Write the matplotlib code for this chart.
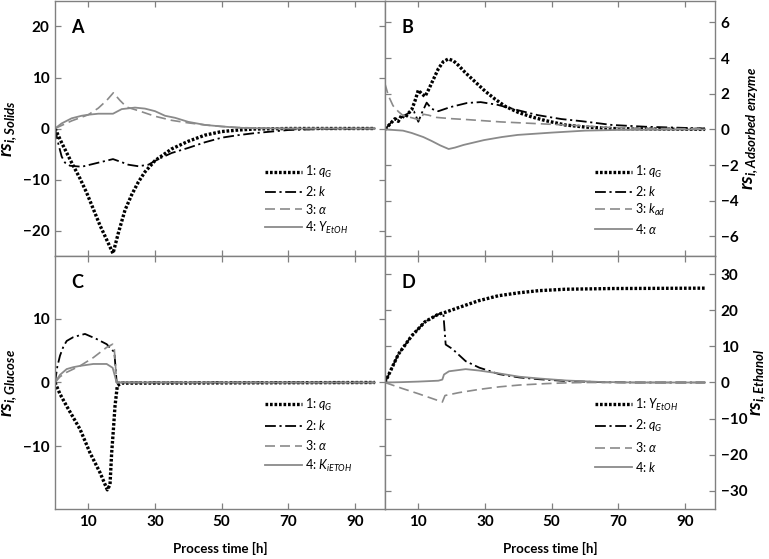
import matplotlib
matplotlib.use('Agg')
import matplotlib.pyplot as plt

plt.rcParams['font.family'] = ['Lato', 'DejaVu Sans']
plt.rcParams['mathtext.fontset'] = 'custom'
plt.rcParams['mathtext.rm'] = 'Lato'
plt.rcParams['mathtext.it'] = 'Lato:italic'
plt.rcParams['mathtext.bf'] = 'Lato:bold'
plt.rcParams['mathtext.bfit'] = 'Lato:italic:bold'

# ---- Panel A : solids ----
a1_t = [0, 2, 5, 7.5, 9.5, 11.5, 13.5, 15.5, 17.4, 19, 21, 23, 25, 27, 30, 35, 40, 45, 50, 55, 60, 70, 96]
a1_y = [0, -2.8, -6.7, -9.8, -12.6, -15.8, -19, -21.8, -24.5, -20.5, -16, -13, -10.5, -8.5, -6.3, -4, -2.5, -1.3, -0.6, -0.3, -0.1, 0, 0]
a2_t = [0, 1, 2, 3, 4.5, 8, 13, 17.4, 20, 22, 25, 28, 31, 35, 40, 45, 50, 55, 60, 70, 80, 96]
a2_y = [0, -3, -5.5, -6.7, -7.3, -7.5, -6.7, -6.0, -6.6, -7.1, -7.4, -7.1, -6.0, -4.8, -3.8, -2.7, -1.8, -1.3, -0.9, -0.3, -0.1, 0]
a3_t = [0, 5, 10, 13, 15.5, 17.5, 19.5, 21.5, 25, 30, 35, 40, 45, 50, 55, 60, 70, 96]
a3_y = [0, 1.5, 2.7, 4.0, 5.5, 7.0, 5.5, 4.2, 3.5, 2.4, 1.6, 1.1, 0.7, 0.4, 0.2, 0.1, 0, 0]
a4_t = [0, 2, 5, 8, 10, 13, 17.4, 20, 24, 27, 30, 33, 36, 40, 45, 50, 55, 60, 70, 96]
a4_y = [0, 1.0, 2.0, 2.5, 2.7, 2.9, 2.9, 3.8, 4.1, 3.9, 3.4, 2.5, 2.1, 1.3, 0.7, 0.4, 0.15, 0.05, 0, 0]

# ---- Panel B : adsorbed enzyme ----
b1_t = [0, 1, 2, 3, 4, 5, 6, 7, 8, 9, 10, 11, 12, 13, 14, 16, 17.5, 19, 20.5, 22, 24, 26, 28, 30, 33, 36, 40, 44, 48, 54, 60, 68, 80, 96]
b1_y = [0, 0.2, 0.4, 0.6, 0.45, 0.8, 0.65, 0.9, 1.1, 1.6, 2.2, 2.0, 1.85, 2.2, 2.6, 3.4, 3.8, 3.95, 3.85, 3.6, 3.2, 2.85, 2.5, 2.15, 1.7, 1.3, 0.95, 0.7, 0.5, 0.25, 0.13, 0.05, 0.02, 0]
b2_t = [0, 2.4, 5.4, 7.5, 8.7, 10, 11, 12.5, 14, 16, 19.6, 24.6, 28.7, 33.7, 39.8, 45.8, 52.9, 59, 68, 78, 96]
b2_y = [0, 0.5, 0.74, 0.95, 1.0, 0.43, 0.9, 1.5, 1.15, 1.02, 1.25, 1.48, 1.53, 1.38, 1.08, 0.8, 0.58, 0.46, 0.25, 0.15, 0.05]
b3_t = [0, 0, 1, 2.4, 4, 5.4, 8.5, 10.5, 11.5, 13, 15.5, 20, 24.6, 34.7, 44.8, 55, 68, 80, 96]
b3_y = [0, 2.55, 1.9, 1.33, 1.0, 0.78, 0.63, 0.53, 0.85, 0.8, 0.67, 0.6, 0.55, 0.42, 0.33, 0.24, 0.1, 0.05, 0.03]
b4_t = [0, 5.4, 8, 11.5, 14, 16.6, 19.1, 21, 23.6, 29.7, 35, 39.8, 50, 60, 70, 96]
b4_y = [0, -0.07, -0.2, -0.43, -0.65, -0.9, -1.1, -1.02, -0.87, -0.6, -0.43, -0.31, -0.18, -0.07, -0.03, 0]

# ---- Panel C : glucose ----
c1_t = [0, 1.5, 3.5, 5.5, 7.5, 10.5, 13.5, 15.7, 16.5, 17, 17.5, 18, 18.7, 19.3, 20, 96]
c1_y = [0, -1.8, -3.7, -5.5, -7.3, -11, -14.1, -16.8, -16.0, -11, -7.5, -3.7, -0.5, -0.3, -0.1, 0]
c2_t = [0, 0.7, 1.5, 2.5, 3.5, 5.5, 7.5, 9, 12.5, 15.5, 17.3, 17.8, 18.5, 96]
c2_y = [0, 2.5, 4.2, 5.6, 6.5, 7.1, 7.4, 7.6, 6.8, 6.0, 5.0, 4.8, 0, 0]
c3_t = [0, 1.5, 3.5, 7.5, 11.5, 15.5, 17.3, 17.8, 18.5, 96]
c3_y = [0, 0.9, 1.6, 2.6, 3.9, 5.5, 6.0, 5.2, 0, 0]
c4_t = [0, 1.5, 3.5, 5.5, 7.5, 11.5, 15.5, 17.3, 18.5, 96]
c4_y = [0, 1.2, 2.1, 2.4, 2.6, 2.9, 2.9, 2.3, 0, 0]

# ---- Panel D : ethanol ----
d1_t = [0, 4, 8, 12, 16, 18, 22, 28, 34, 40, 46, 54, 68, 96]
d1_y = [0, 7.8, 12.9, 16.8, 18.9, 19.4, 20.7, 22.6, 24.0, 24.8, 25.4, 25.8, 26.0, 26.1]
d2_t = [0, 4, 8, 12, 16, 17.5, 17.7, 18.2, 20.2, 24.2, 28.3, 34.3, 40.3, 46.3, 54.4, 64.5, 75, 96]
d2_y = [0, 7.8, 12.9, 16.8, 18.9, 19.2, 16.7, 10.5, 9.3, 5.9, 4.1, 2.3, 1.4, 0.9, 0.4, 0.1, 0, 0]
d3_t = [0, 5, 10, 17.2, 18, 22.2, 28.3, 34.3, 40.3, 48.5, 54.4, 60, 96]
d3_y = [0, -1.6, -3.1, -5.4, -3.6, -2.8, -1.9, -1.2, -0.7, -0.3, -0.1, 0, 0]
d4_t = [0, 5, 10, 16, 17.2, 17.7, 19.2, 24.2, 28.3, 34.3, 40.3, 46.3, 54.4, 64.5, 75, 96]
d4_y = [0, 0.1, 0.25, 0.5, 0.8, 2.2, 3.1, 3.7, 3.3, 2.5, 1.6, 1.1, 0.55, 0.15, 0, 0]

panels = [
    ('A', [(a1_t, a1_y), (a2_t, a2_y), (a3_t, a3_y), (a4_t, a4_y)],
     ['1: $q_G$', '2: $k$', r'3: $\alpha$', '4: $Y_{EtOH}$'],
     r'$\mathbfit{rs}_{\mathbfit{i,Solids}}$', (-25, 25), [-20, -10, 0, 10, 20]),
    ('B', [(b1_t, b1_y), (b2_t, b2_y), (b3_t, b3_y), (b4_t, b4_y)],
     ['1: $q_G$', '2: $k$', '3: $k_{ad}$', r'4: $\alpha$'],
     r'$\mathbfit{rs}_{\mathbfit{i,Adsorbed\ enzyme}}$', (-7.1, 7.2), [-6, -4, -2, 0, 2, 4, 6]),
    ('C', [(c1_t, c1_y), (c2_t, c2_y), (c3_t, c3_y), (c4_t, c4_y)],
     ['1: $q_G$', '2: $k$', r'3: $\alpha$', '4: $K_{iETOH}$'],
     r'$\mathbfit{rs}_{\mathbfit{i,Glucose}}$', (-19.8, 19.8), [-10, 0, 10]),
    ('D', [(d1_t, d1_y), (d2_t, d2_y), (d3_t, d3_y), (d4_t, d4_y)],
     ['1: $Y_{EtOH}$', '2: $q_G$', r'3: $\alpha$', '4: $k$'],
     r'$\mathbfit{rs}_{\mathbfit{i,Ethanol}}$', (-35, 35), [-30, -20, -10, 0, 10, 20, 30]),
]

styles = [
    dict(color='black', lw=2.4, ls=(0, (0.8, 0.55))),
    dict(color='black', lw=1.3, ls=(0, (6, 2, 1.2, 2))),
    dict(color='#8a8a8a', lw=1.2, ls=(0, (6, 3))),
    dict(color='#8a8a8a', lw=1.3, ls='-'),
]

grey = '#808080'
W, H = 769, 559
boxes = [
    (55, 1, 385, 256),
    (385, 1, 715, 256),
    (55, 256, 385, 509),
    (385, 256, 715, 509),
]

fig = plt.figure(figsize=(W / 100, H / 100), dpi=100)

for i, (letter, series, labels, ylab, ylim, yticks) in enumerate(panels):
    x0, y0, x1, y1 = boxes[i]
    ax = fig.add_axes([x0 / W, 1 - y1 / H, (x1 - x0) / W, (y1 - y0) / H])
    for (t, y), st, lab in zip(series, styles, labels):
        ax.plot(t, y, label=lab, **st)
    ax.set_xlim(0, 99)
    ax.set_ylim(*ylim)
    ax.set_xticks([10, 30, 50, 70, 90])
    ax.set_yticks(yticks)
    for sp in ax.spines.values():
        sp.set_color(grey)
        sp.set_linewidth(1.0)
    right = i % 2 == 1
    bottom = i >= 2
    ax.tick_params(direction='in', length=4, width=0.9, color=grey,
                   top=True, bottom=True, left=True, right=True,
                   labelbottom=bottom, labelleft=not right, labelright=right,
                   labelsize=11, pad=4)
    for lbl in ax.get_xticklabels() + ax.get_yticklabels():
        lbl.set_fontweight('bold')
    if right:
        ax.yaxis.set_label_position('right')
        ax.set_ylabel(ylab, fontsize=13.5, labelpad=1)
    else:
        ax.set_ylabel(ylab, fontsize=13.5, labelpad=3)
    if bottom:
        ax.set_xlabel('Process time [h]', fontsize=9.5, fontweight='bold', labelpad=10)
    ax.text(0.05, 0.895, letter, transform=ax.transAxes, fontsize=13,
            fontweight='bold', va='center', ha='left')
    anchor = (0.62, 0.06) if not bottom else (0.62, 0.12)
    ax.legend(loc='lower left', bbox_to_anchor=anchor, frameon=False,
              fontsize=9, handlelength=3.0, handletextpad=0.2,
              labelspacing=0.3 if not bottom else 0.45, borderaxespad=0)

fig.savefig('out.png', dpi=100)
